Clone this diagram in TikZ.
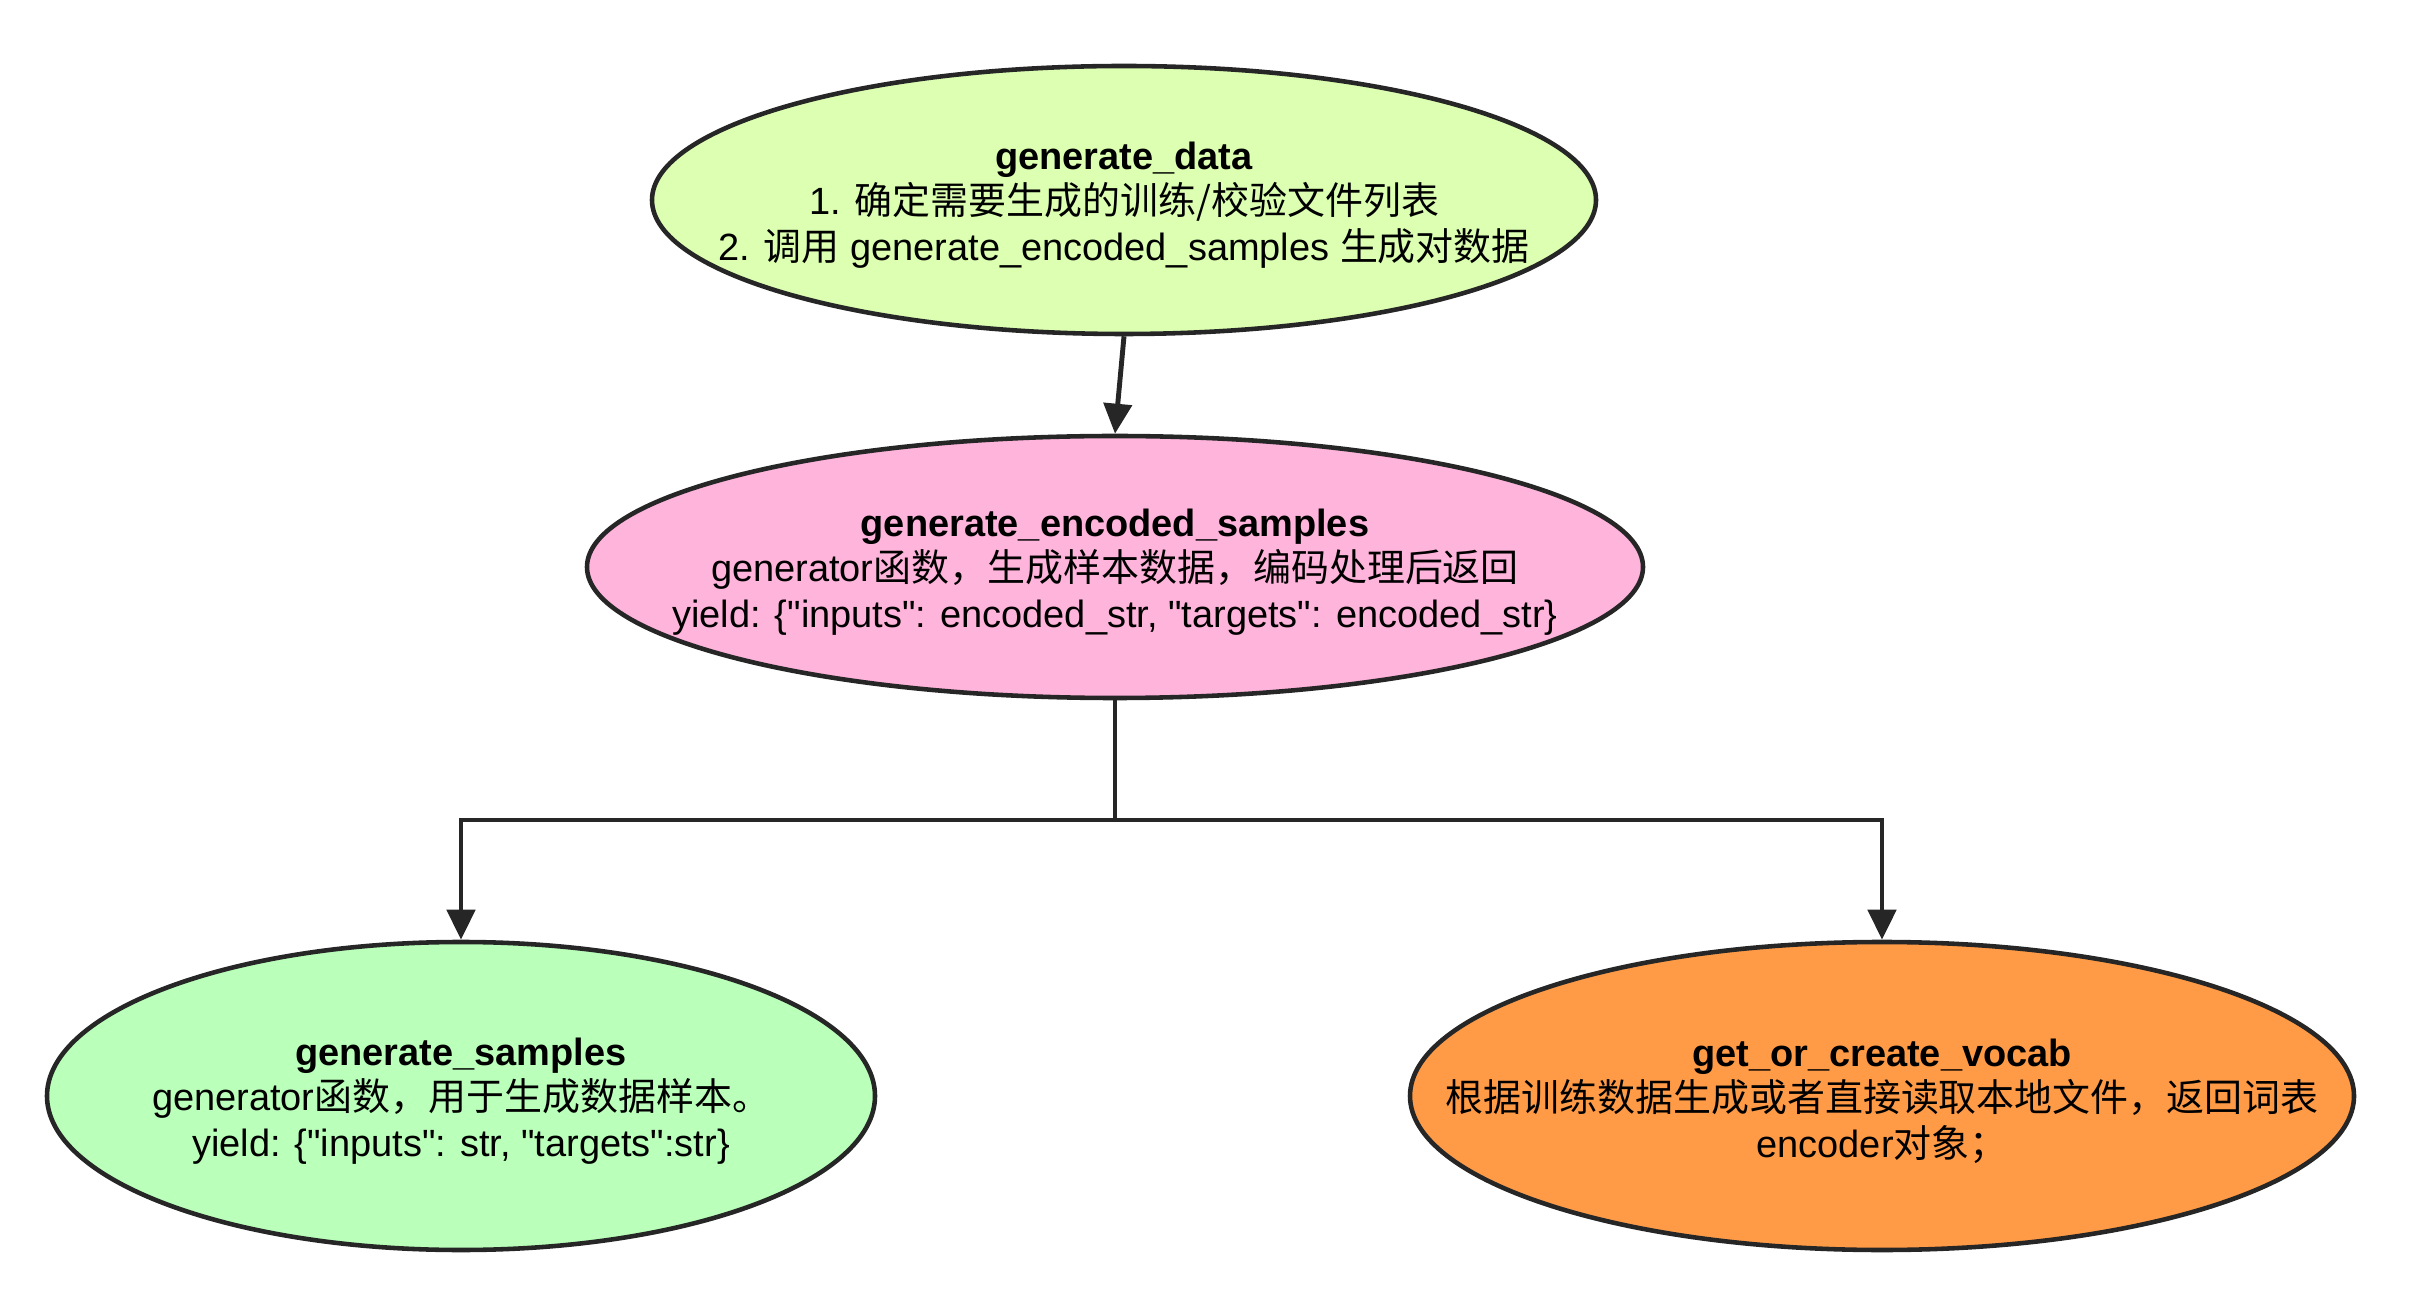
\documentclass[tikz,border=0pt]{standalone}
\usepackage{fontspec}
\setmainfont{Liberation Sans}[Ligatures=TeXOff]
\newfontfamily\cjk{Noto Sans CJK SC}
\usetikzlibrary{shapes.geometric,arrows.meta}
\definecolor{topgreen}{RGB}{220,255,178}
\definecolor{midpink}{RGB}{255,180,220}
\definecolor{leafgreen}{RGB}{186,255,186}
\definecolor{leaforange}{RGB}{255,155,71}
\tikzset{
  func/.style={shape=ellipse, draw=black!85, line width=1.3pt, inner sep=0pt},
  functext/.style={align=center, inner sep=0pt, yshift=-0.05cm, font=\fontsize{10.8}{13}\selectfont},
  link/.style={draw=black!85, line width=1.4pt},
  linkarrow/.style={link, -{Triangle[length=0.3cm, width=0.28cm]}}
}
\begin{document}
\begin{tikzpicture}
			\useasboundingbox (0, 0) rectangle (24.16, 13.10);
			\node[func, fill=topgreen, minimum width=9.44cm, minimum height=2.68cm](gendata) at (11.24, 11.10){} node[functext] at (gendata.center){\textbf{generate\_data}\\1. {\cjk 确定需要生成的训练/校验文件列表}\\2. {\cjk 调用} generate\_encoded\_samples {\cjk 生成对数据}};
			\node[func, fill=midpink, minimum width=10.56cm, minimum height=2.62cm](genenc) at (11.15, 7.43){} node[functext] at (genenc.center){\textbf{generate\_encoded\_samples}\\generator{\cjk 函数，生成样本数据，编码处理后返回}\\yield: \{"inputs": encoded\_str, "targets": encoded\_str\}};
			\node[func, fill=leafgreen, minimum width=8.28cm, minimum height=3.08cm](gensamp) at (4.61, 2.14){} node[functext] at (gensamp.center){\textbf{generate\_samples}\\generator{\cjk 函数，用于生成数据样本。}\\yield: \{"inputs": str, "targets":str\}};
			\node[func, fill=leaforange, minimum width=9.44cm, minimum height=3.08cm](vocab) at (18.82, 2.14){} node[functext] at (vocab.center){\textbf{get\_or\_create\_vocab}\\{\cjk 根据训练数据生成或者直接读取本地文件，返回词表}\\encoder{\cjk 对象；}};
			\coordinate (fork) at (11.15, 4.90);
			\draw[linkarrow] (gendata.south) -- (genenc.north);
			\draw[link] (genenc.south) -- (fork);
			\draw[linkarrow] (fork) -| (gensamp.north);
			\draw[linkarrow] (fork) -| (vocab.north);
		\end{tikzpicture}
\end{document}
